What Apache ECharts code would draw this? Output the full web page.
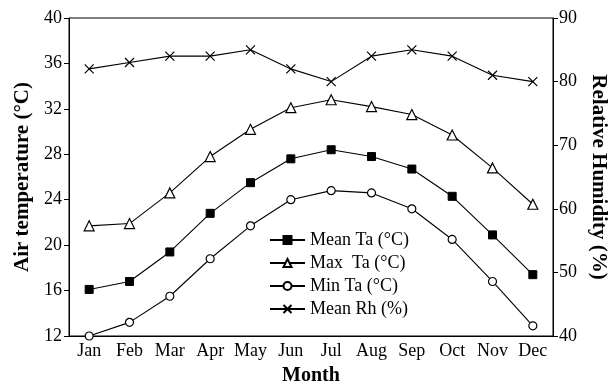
<!DOCTYPE html>
<html>
<head>
<meta charset="utf-8">
<script src="https://cdn.jsdelivr.net/npm/echarts@6/dist/echarts.min.js"></script>
<style>html,body{margin:0;padding:0;background:#fff}#c{width:609px;height:384px}</style>
</head>
<body>
<div id="c"></div>
<script>
var months = ['Jan','Feb','Mar','Apr','May','Jun','Jul','Aug','Sep','Oct','Nov','Dec'];
var meanTa = [16.1,16.8,19.4,22.8,25.5,27.6,28.4,27.8,26.7,24.3,20.9,17.4];
var maxTa  = [21.7,21.9,24.6,27.8,30.2,32.1,32.8,32.2,31.5,29.7,26.8,23.6];
var minTa  = [12.0,13.2,15.5,18.8,21.7,24.0,24.8,24.6,23.2,20.5,16.8,12.9];
var meanRh = [82,83,84,84,85,82,80,84,85,84,81,80];
var seriesNames = ['Mean Ta (\u00B0C)','Max  Ta (\u00B0C)','Min Ta (\u00B0C)','Mean Rh (%)'];

var FONT = 'Liberation Serif';
var chart = echarts.init(document.getElementById('c'), null, {renderer:'canvas'});
var lineStyle = {color:'#000', width:1.1};
var crossPath = 'path://M0,0L10,10M10,0L0,10';
chart.setOption({
  animation:false,
  backgroundColor:'#fff',
  textStyle:{fontFamily:FONT, color:'#000'},
  grid:{left:69, right:56, top:18, bottom:48, show:true, borderColor:'#000', borderWidth:1,
        containLabel:false, outerBoundsMode:'none'},
  legend:{
    orient:'vertical', left:269, top:231, padding:0,
    itemWidth:35, itemHeight:10, itemGap:5,
    textStyle:{fontFamily:FONT, fontSize:18, color:'#000', lineHeight:18},
    data:seriesNames
  },
  xAxis:{
    type:'category', data:months, boundaryGap:true,
    axisLine:{lineStyle:{color:'#000', width:1}},
    axisTick:{inside:true, length:5, interval:0, lineStyle:{color:'#000'}},
    axisLabel:{fontFamily:FONT, fontSize:18, color:'#000', margin:6, interval:0},
    name:'Month', nameLocation:'middle', nameGap:30,
    nameTextStyle:{fontFamily:FONT, fontSize:20, fontWeight:'bold', color:'#000'}
  },
  yAxis:[{
    type:'value', min:12, max:40, interval:4,
    axisLine:{show:true, lineStyle:{color:'#000'}},
    axisTick:{show:true, length:5, lineStyle:{color:'#000'}},
    axisLabel:{fontFamily:FONT, fontSize:18, color:'#000', margin:7},
    splitLine:{show:false},
    name:'Air temperature (\u00B0C)', nameLocation:'middle', nameRotate:90, nameGap:36,
    nameTextStyle:{fontFamily:FONT, fontSize:21, fontWeight:'bold', color:'#000'}
  },{
    type:'value', min:40, max:90, interval:10, position:'right',
    axisLine:{show:true, lineStyle:{color:'#000'}},
    axisTick:{show:true, length:5, lineStyle:{color:'#000'}},
    axisLabel:{fontFamily:FONT, fontSize:18, color:'#000', margin:6},
    splitLine:{show:false},
    name:'Relative Humidity (%)', nameLocation:'middle', nameRotate:-90, nameGap:33,
    nameTextStyle:{fontFamily:FONT, fontSize:21, fontWeight:'bold', color:'#000'}
  }],
  series:[{
    name:seriesNames[0], type:'line', data:meanTa, symbol:'rect', symbolSize:8,
    showAllSymbol:true, lineStyle:lineStyle,
    itemStyle:{color:'#000', borderColor:'#000', borderWidth:1}
  },{
    name:seriesNames[1], type:'line', data:maxTa, symbol:'triangle', symbolSize:10,
    showAllSymbol:true, lineStyle:lineStyle,
    itemStyle:{color:'#fff', borderColor:'#000', borderWidth:1.2}
  },{
    name:seriesNames[2], type:'line', data:minTa, symbol:'circle', symbolSize:8,
    showAllSymbol:true, lineStyle:lineStyle,
    itemStyle:{color:'#fff', borderColor:'#000', borderWidth:1.2}
  },{
    name:seriesNames[3], type:'line', yAxisIndex:1, data:meanRh, symbol:crossPath, symbolSize:9,
    showAllSymbol:true, lineStyle:lineStyle,
    itemStyle:{color:'none', borderColor:'#000', borderWidth:1.2}
  }]
});
</script>
</body>
</html>
